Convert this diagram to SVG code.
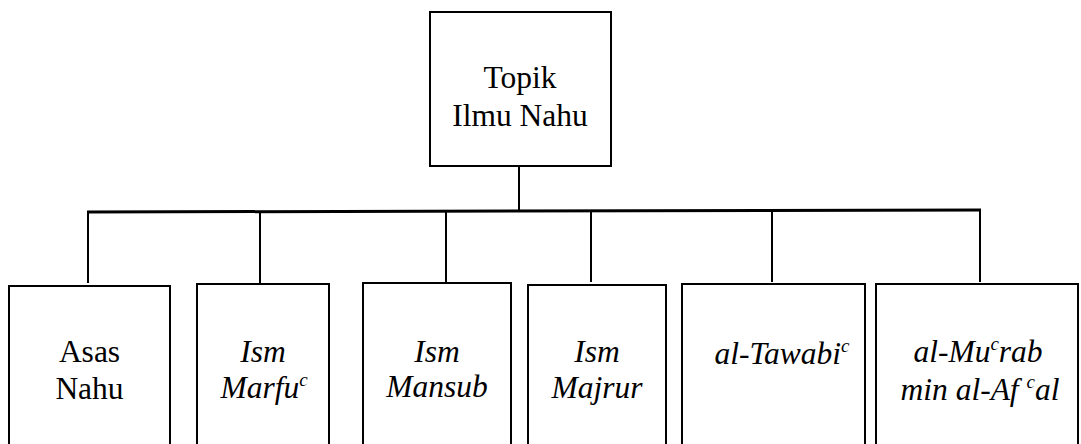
<svg xmlns="http://www.w3.org/2000/svg" width="1081" height="444" viewBox="0 0 1081 444">
<style>
.box{fill:#fff;stroke:#000;stroke-width:2}
.ln{stroke:#000;stroke-width:2;fill:none}
.t{font-family:"Liberation Serif","Times New Roman",serif;font-size:31.5px;fill:#000;text-anchor:middle}
.i{font-style:italic}
.sup{font-size:19px}
</style>
<rect width="1081" height="444" fill="#fff"/>
<g id="connectors">
<line class="ln" x1="519" y1="166" x2="519" y2="211"/>
<line class="ln" x1="87" y1="212" x2="981" y2="210" style="stroke-width:3"/>
<line class="ln" x1="88" y1="212" x2="88" y2="283"/>
<line class="ln" x1="260" y1="212" x2="260" y2="283"/>
<line class="ln" x1="446" y1="211" x2="446" y2="282"/>
<line class="ln" x1="591" y1="211" x2="591" y2="282"/>
<line class="ln" x1="772" y1="210" x2="772" y2="282"/>
<line class="ln" x1="980" y1="210" x2="980" y2="282"/>
</g>
<g id="topik">
<rect class="box" x="430" y="12" width="181" height="154"/>
<text class="t" x="520" y="88">Topik</text>
<text class="t" x="520" y="126">Ilmu Nahu</text>
</g>
<g id="asas">
<rect class="box" x="9" y="286" width="161" height="170"/>
<text class="t" x="89.5" y="362">Asas</text>
<text class="t" x="89.5" y="399">Nahu</text>
</g>
<g id="marfu">
<rect class="box" x="197" y="284" width="132" height="170"/>
<text class="t i" x="263" y="362">Ism</text>
<text class="t i" x="264" y="398">Marfu<tspan class="sup" dy="-12">c</tspan></text>
</g>
<g id="mansub">
<rect class="box" x="363" y="283" width="148" height="170"/>
<text class="t i" x="437" y="362">Ism</text>
<text class="t i" x="437" y="397">Mansub</text>
</g>
<g id="majrur">
<rect class="box" x="528" y="285" width="138" height="170"/>
<text class="t i" x="597" y="362">Ism</text>
<text class="t i" x="597" y="398">Majrur</text>
</g>
<g id="tawabi">
<rect class="box" x="682" y="284" width="183" height="170"/>
<text class="t i" x="782" y="364">al-Tawabi<tspan class="sup" dy="-12">c</tspan></text>
</g>
<g id="murab">
<rect class="box" x="876" y="284" width="202" height="170"/>
<text class="t i" x="978" y="362">al-Mu<tspan class="sup" dy="-12">c</tspan><tspan dy="12">rab</tspan></text>
<text class="t i" x="980" y="400">min al-Af <tspan class="sup" dy="-12">c</tspan><tspan dy="12">al</tspan></text>
</g>
</svg>
